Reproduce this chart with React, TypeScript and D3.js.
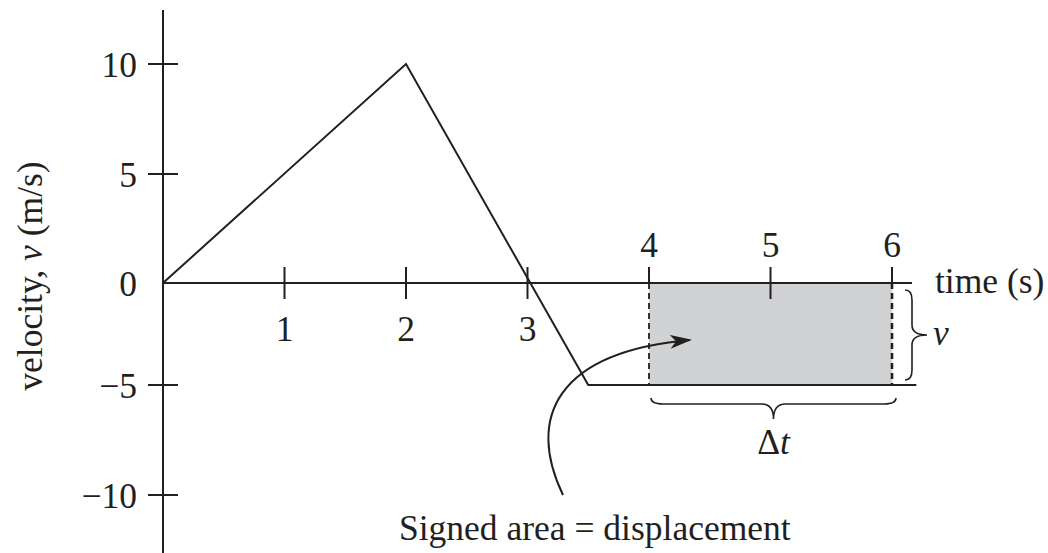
import React from "react";
import * as d3 from "d3";

// ---- data ----
const velocityPoints: [number, number][] = [
  [0, 0],
  [2, 10],
  [3.5, -5],
  [6.2, -5],
];
const xTicksBelow = [1, 2, 3];
const xTicksAbove = [4, 5, 6];
const yTicks = [10, 5, 0, -5, -10];
const areaInterval = [4, 6];
const areaVelocity = -5;

const W = 1048;
const H = 553;
const INK = "#231f20";
const FONT = "'Liberation Serif', 'Times New Roman', 'DejaVu Serif', serif";

// horizontal brace opening upward (tip down)
function hBrace(xa: number, xb: number, y0: number, flat: number, tip: number, r: number) {
  const xm = (xa + xb) / 2;
  return [
    `M ${xa} ${y0}`,
    `Q ${xa} ${y0 + flat} ${xa + r} ${y0 + flat}`,
    `L ${xm - r} ${y0 + flat}`,
    `Q ${xm} ${y0 + flat} ${xm} ${y0 + tip}`,
    `Q ${xm} ${y0 + flat} ${xm + r} ${y0 + flat}`,
    `L ${xb - r} ${y0 + flat}`,
    `Q ${xb} ${y0 + flat} ${xb} ${y0}`,
  ].join(" ");
}
// vertical brace opening left (tip right)
function vBrace(ya: number, yb: number, x0: number, flat: number, tip: number, r: number) {
  const ym = (ya + yb) / 2;
  return [
    `M ${x0} ${ya}`,
    `Q ${x0 + flat} ${ya} ${x0 + flat} ${ya + r}`,
    `L ${x0 + flat} ${ym - r}`,
    `Q ${x0 + flat} ${ym} ${x0 + tip} ${ym}`,
    `Q ${x0 + flat} ${ym} ${x0 + flat} ${ym + r}`,
    `L ${x0 + flat} ${yb - r}`,
    `Q ${x0 + flat} ${yb} ${x0} ${yb}`,
  ].join(" ");
}

export default function App() {
  const x = d3.scaleLinear().domain([0, 6]).range([163, 892]);
  const y = d3.scaleLinear().domain([-10, -5, 0, 5, 10]).range([495, 385, 283, 174, 64]);

  const line = d3
    .line<[number, number]>()
    .x((d) => x(d[0]))
    .y((d) => y(d[1]));

  const fs = 35.5;
  const rx0 = x(areaInterval[0]);
  const rx1 = x(areaInterval[1]);
  const ry0 = y(0);
  const ry1 = y(areaVelocity);

  const arrowPath = "M 563 495 C 526 418, 556 352, 690 340";

  return (
    <svg
      width={W}
      height={H}
      style={{ position: "absolute", left: 0, top: 0, background: "#fff" }}
      fontFamily={FONT}
    >
      <defs>
        <marker
          id="ah"
          viewBox="0 0 22 14"
          refX="20"
          refY="7"
          markerWidth="22"
          markerHeight="14"
          markerUnits="userSpaceOnUse"
          orient="auto"
        >
          <path d="M0,0 L22,7 L0,14 L6,7 Z" fill={INK} />
        </marker>
      </defs>
      <rect x={0} y={0} width={W} height={H} fill="#fff" />

      {/* shaded area */}
      <rect x={rx0} y={ry0} width={rx1 - rx0} height={ry1 - ry0} fill="#d1d2d4" />

      {/* y axis */}
      <line x1={x(0)} x2={x(0)} y1={10} y2={H} stroke={INK} strokeWidth={2} />
      {yTicks.map((t) => (
        <g key={"y" + t}>
          {t !== 0 && (
            <line x1={x(0) - 15} x2={x(0) + 15} y1={y(t)} y2={y(t)} stroke={INK} strokeWidth={2} />
          )}
          <text x={137} y={y(t)} dy="0.36em" textAnchor="end" fontSize={fs} fill={INK}>
            {t < 0 ? "\u2212" + Math.abs(t) : String(t)}
          </text>
        </g>
      ))}

      {/* x axis */}
      <line x1={x(0)} x2={912} y1={y(0)} y2={y(0)} stroke={INK} strokeWidth={2} />
      {xTicksBelow.map((t) => (
        <g key={"xb" + t}>
          <line x1={x(t)} x2={x(t)} y1={y(0) - 16} y2={y(0) + 16} stroke={INK} strokeWidth={2} />
          <text x={x(t)} y={341} textAnchor="middle" fontSize={fs} fill={INK}>
            {t}
          </text>
        </g>
      ))}
      {xTicksAbove.map((t) => (
        <g key={"xa" + t}>
          <line
            x1={x(t)}
            x2={x(t)}
            y1={y(0) - 16}
            y2={t === 5 ? y(0) + 16 : y(0)}
            stroke={INK}
            strokeWidth={2}
          />
          <text x={x(t)} y={257} textAnchor="middle" fontSize={fs} fill={INK}>
            {t}
          </text>
        </g>
      ))}

      {/* dashed edges */}
      <line x1={rx0} x2={rx0} y1={ry0} y2={ry1} stroke={INK} strokeWidth={1.8} strokeDasharray="6 4" />
      <line x1={rx1} x2={rx1} y1={ry0} y2={ry1} stroke={INK} strokeWidth={2.6} strokeDasharray="6 4" />

      {/* velocity line */}
      <path d={line(velocityPoints) || ""} fill="none" stroke={INK} strokeWidth={2} />

      {/* braces */}
      <path d={hBrace(rx0 + 2, rx1 + 4, 398, 6, 21, 12)} fill="none" stroke={INK} strokeWidth={1.6} />
      <path d={vBrace(290, 380, 905, 7, 22, 10)} fill="none" stroke={INK} strokeWidth={1.6} />

      {/* arrow */}
      <path d={arrowPath} fill="none" stroke={INK} strokeWidth={2} markerEnd="url(#ah)" />

      {/* labels */}
      <text x={935} y={293} fontSize={fs} fill={INK}>
        time (s)
      </text>
      <text x={933} y={345} fontSize={fs} fontStyle="italic" fill={INK}>
        v
      </text>
      <text x={(rx0 + rx1) / 2 + 3} y={454} textAnchor="middle" fontSize={fs} fill={INK}>
        Δ<tspan fontStyle="italic">t</tspan>
      </text>
      <text x={399} y={540} fontSize={fs} fill={INK}>
        Signed area = displacement
      </text>
      <text transform="translate(42, 276) rotate(-90)" textAnchor="middle" fontSize={fs} fill={INK}>
        velocity, <tspan fontStyle="italic">v</tspan> (m/s)
      </text>
    </svg>
  );
}
